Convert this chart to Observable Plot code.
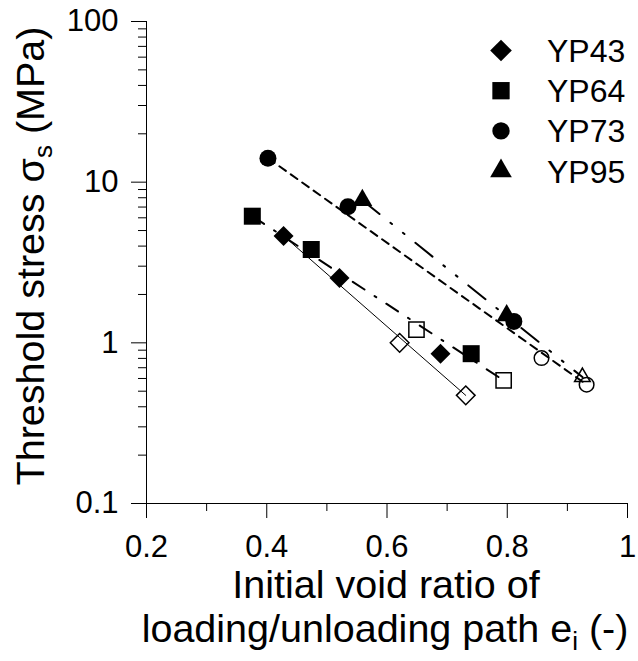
<!DOCTYPE html>
<html><head><meta charset="utf-8">
<script src="https://cdn.jsdelivr.net/npm/d3@7"></script>
<script src="https://cdn.jsdelivr.net/npm/@observablehq/plot@0.6"></script>
<style>body{margin:0;background:#fff}</style>
</head><body><div id="chart"></div>
<script>
// ---- data ----
const seriesNames = ["YP43", "YP64", "YP73", "YP95"];
const seriesSymbols = ["diamond2", "square", "circle", "triangle"];

// loading path (filled symbols): initial void ratio e_i, threshold stress (MPa)
const yp43LoadE = [0.428, 0.521, 0.689];
const yp43LoadS = [4.63, 2.53, 0.856];
const yp64LoadE = [0.376, 0.474, 0.740];
const yp64LoadS = [6.14, 3.81, 0.856];
const yp73LoadE = [0.402, 0.535, 0.811];
const yp73LoadS = [14.1, 7.02, 1.36];
const yp95LoadE = [0.559, 0.799];
const yp95LoadS = [7.72, 1.48];

// unloading path (open symbols)
const yp43UnloadE = [0.621, 0.731];
const yp43UnloadS = [1.00, 0.471];
const yp64UnloadE = [0.649, 0.794];
const yp64UnloadS = [1.21, 0.584];
const yp73UnloadE = [0.857, 0.932];
const yp73UnloadS = [0.804, 0.549];
const yp95UnloadE = [0.925];
const yp95UnloadS = [0.612];

// fitted trend lines (end points)
const yp43FitE = [0.428, 0.731];
const yp43FitS = [4.63, 0.471];
const yp64FitE = [0.376, 0.794];
const yp64FitS = [6.14, 0.584];
const yp73FitE = [0.402, 0.932];
const yp73FitS = [14.1, 0.549];
const yp95FitE = [0.559, 0.925];
const yp95FitS = [7.72, 0.612];

// ticks
const xMajorTicks = [0.2, 0.4, 0.6, 0.8, 1];
const xMinorTicks = [0.3, 0.5, 0.7, 0.9];
const yMajorTicks = [0.1, 1, 10, 100];
const yMinorTicks = [0.2, 0.3, 0.4, 0.5, 0.6, 0.7, 0.8, 0.9, 2, 3, 4, 5, 6, 7, 8, 9, 20, 30, 40, 50, 60, 70, 80, 90];

// ---- build tables ----
const zipRows = (es, ss) => es.map((e, i) => ({e, s: ss[i]}));
const loadRows = [zipRows(yp43LoadE, yp43LoadS), zipRows(yp64LoadE, yp64LoadS), zipRows(yp73LoadE, yp73LoadS), zipRows(yp95LoadE, yp95LoadS)];
const unloadRows = [zipRows(yp43UnloadE, yp43UnloadS), zipRows(yp64UnloadE, yp64UnloadS), zipRows(yp73UnloadE, yp73UnloadS), zipRows(yp95UnloadE, yp95UnloadS)];
const fitRows = [zipRows(yp43FitE, yp43FitS), zipRows(yp64FitE, yp64FitS), zipRows(yp73FitE, yp73FitS), zipRows(yp95FitE, yp95FitS)];

// ---- styles ----
const lineDash = [null, "14,12,2,12", "8,6", "22,14,2,14,2,14"];
const lineWidth = [1, 2, 2, 2];
const filledR = [9.0, 9.6, 8.5, 7.4];
const openR = [8.4, 8.6, 7.3, 5.8];

const marks = [];
for (let i = 0; i < 4; i++) {
  marks.push(Plot.line(fitRows[i], {x: "e", y: "s", stroke: "black", strokeWidth: lineWidth[i], strokeDasharray: lineDash[i] || undefined}));
}
for (let i = 0; i < 4; i++) {
  marks.push(Plot.dot(loadRows[i], {x: "e", y: "s", symbol: () => seriesSymbols[i], r: filledR[i], fill: "black", stroke: "none"}));
  marks.push(Plot.dot(unloadRows[i], {x: "e", y: "s", symbol: () => seriesSymbols[i], r: openR[i], fill: "none", stroke: "black", strokeWidth: 1.5}));
}

const svg = Plot.plot({
  width: 638,
  height: 661,
  marginLeft: 146,
  marginRight: 11,
  marginTop: 21,
  marginBottom: 158,
  style: {fontFamily: "'Liberation Sans', Arial, sans-serif", fontSize: "31px", color: "black", background: "white"},
  x: {domain: [0.2, 1], label: null},
  y: {type: "log", domain: [0.1, 100], label: null},
  symbol: {type: "identity"},
  marks: [
    Plot.axisX(xMinorTicks, {tickSize: 8, tickFormat: () => "", label: null}),
    Plot.axisX(xMajorTicks, {tickSize: 15, tickPadding: 16, fontSize: 31, tickFormat: d => String(d), label: null}),
    Plot.axisY(yMinorTicks, {tickSize: 8, tickFormat: () => "", label: null}),
    Plot.axisY(yMajorTicks, {tickSize: 15, tickPadding: 13, fontSize: 31, tickFormat: d => String(d), label: null}),
    Plot.ruleX([0.2], {stroke: "black"}),
    Plot.ruleY([0.1], {stroke: "black"}),
    ...marks
  ]
});

// ---- legend & axis titles (text appended to the same SVG) ----
const root = d3.select(svg);
const d3Sym = {diamond2: d3.symbolDiamond2, square: d3.symbolSquare, circle: d3.symbolCircle, triangle: d3.symbolTriangle};
const legendSizes = [299, 300, 236, 204];
const lg = root.append("g");
seriesNames.forEach((name, i) => {
  const y = 50.5 + 40.2 * i;
  lg.append("path")
    .attr("transform", `translate(501,${y})`)
    .attr("d", d3.symbol(d3Sym[seriesSymbols[i]], legendSizes[i])())
    .attr("fill", "black");
  lg.append("text")
    .attr("x", 547).attr("y", y).attr("dy", "0.36em")
    .attr("text-anchor", "start")
    .style("font-size", "32px")
    .text(name);
});

const yt = root.append("text")
  .attr("transform", "translate(44,256) rotate(-90)")
  .attr("text-anchor", "middle")
  .style("font-size", "39.5px");
yt.append("tspan").text("Threshold stress σ");
yt.append("tspan").attr("dy", 8).style("font-size", "26px").text("s");
yt.append("tspan").attr("dy", -8).text(" (MPa)");

const xt1 = root.append("text")
  .attr("x", 386).attr("y", 598)
  .attr("text-anchor", "middle")
  .style("font-size", "39.5px")
  .text("Initial void ratio of");
const xt2 = root.append("text")
  .attr("x", 385).attr("y", 642)
  .attr("text-anchor", "middle")
  .style("font-size", "39.5px");
xt2.append("tspan").text("loading/unloading path e");
xt2.append("tspan").attr("dy", 8).style("font-size", "26px").text("i");
xt2.append("tspan").attr("dy", -8).text(" (-)");

document.getElementById("chart").append(svg);
</script>
</body></html>
